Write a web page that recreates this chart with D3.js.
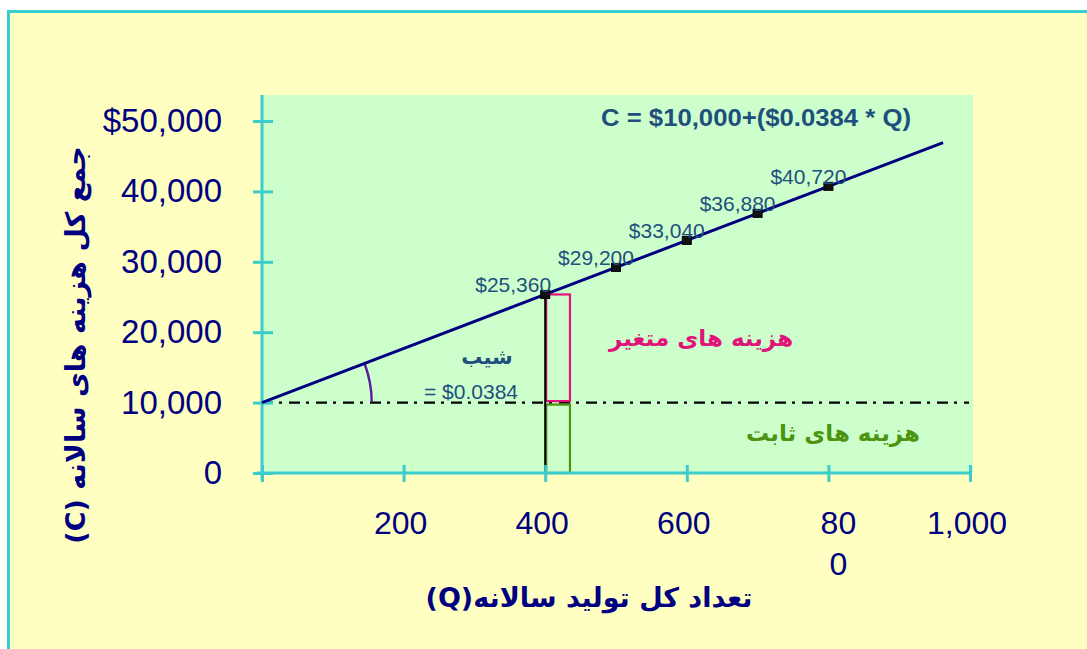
<!DOCTYPE html>
<html>
<head>
<meta charset="utf-8">
<script src="https://cdn.jsdelivr.net/npm/d3@7"></script>
<style>
  html, body { margin: 0; padding: 0; background: #ffffff; }
  svg { display: block; }
  .latin { font-family: "Liberation Sans", Arial, sans-serif; }
  .fa { font-family: "DejaVu Sans", "Noto Sans", sans-serif; font-weight: bold; }
</style>
</head>
<body>
<svg id="chart" width="1087" height="649"></svg>
<script>
// Annual production (Q) and total annual cost (C)
const xTicks = [0, 200, 400, 600, 800, 1000];
const xTickLabels = ["", "200", "400", "600", "80\n0", "1,000"];
const yTicks = [0, 10000, 20000, 30000, 40000, 50000];
const yTickLabels = ["0", "10,000", "20,000", "30,000", "40,000", "$50,000"];

const pointQ = [400, 500, 600, 700, 800];
const pointCost = [25360, 29200, 33040, 36880, 40720];
const pointLabels = ["$25,360", "$29,200", "$33,040", "$36,880", "$40,720"];

const lineQ = [0, 400, 500, 600, 700, 800, 962];
const lineCost = [10000, 25360, 29200, 33040, 36880, 40720, 46940];

const fixedCost = 10000;
const markQ = 400;          // quantity where the cost split is shown
const markCost = 25360;
const barQWidth = 35;       // width of the split bars in Q units

const equationText = "C = $10,000+($0.0384 * Q)";
const slopeTitle = "شیب";
const slopeValue = "= $0.0384";
const variableLabel = "هزینه های متغیر";
const fixedLabel = "هزینه های ثابت";
const xTitle = "تعداد کل تولید سالانه(Q)";
const yTitle = "جمع کل هزینه های سالانه (C)";

const colors = {
  frame: "#36cfcf",
  page: "#ffffc2",
  plot: "#ccffcc",
  axis: "#3ccccc",
  ink: "#000080",
  label: "#1f4f7c",
  variable: "#e0137a",
  fixed: "#4c9410",
  arc: "#5b1a9c"
};

const svg = d3.select("#chart");

// page frame
svg.append("rect")
  .attr("x", 8.5).attr("y", 11.5)
  .attr("width", 1100).attr("height", 660)
  .attr("fill", colors.page)
  .attr("stroke", colors.frame).attr("stroke-width", 3);

const plot = { left: 262, right: 973, top: 95, bottom: 473 };

const x = d3.scaleLinear().domain([0, 1000]).range([262, 970]);
const y = d3.scaleLinear().domain([0, 50000]).range([473, 121]);

// plot background
svg.append("rect")
  .attr("x", plot.left).attr("y", plot.top)
  .attr("width", plot.right - plot.left)
  .attr("height", plot.bottom - plot.top)
  .attr("fill", colors.plot);

// fixed-cost reference line (dash-dot)
svg.append("line")
  .attr("x1", x(0)).attr("x2", plot.right - 4)
  .attr("y1", y(fixedCost)).attr("y2", y(fixedCost))
  .attr("stroke", "#000").attr("stroke-width", 2.4)
  .attr("stroke-dasharray", "11,6,3,7");

// split bars at Q = 400
svg.append("rect")
  .attr("x", x(markQ) + 1).attr("y", y(markCost))
  .attr("width", x(markQ + barQWidth) - x(markQ) - 1)
  .attr("height", y(fixedCost) - y(markCost) - 1.5)
  .attr("fill", "none").attr("stroke", colors.variable).attr("stroke-width", 2.2);

svg.append("rect")
  .attr("x", x(markQ) + 1).attr("y", y(fixedCost) + 2)
  .attr("width", x(markQ + barQWidth) - x(markQ) - 1)
  .attr("height", y(0) - y(fixedCost) - 2)
  .attr("fill", "none").attr("stroke", colors.fixed).attr("stroke-width", 2.2);

svg.append("line")
  .attr("x1", x(markQ)).attr("x2", x(markQ))
  .attr("y1", y(markCost)).attr("y2", y(0))
  .attr("stroke", "#000").attr("stroke-width", 2);

// slope angle arc
const p0 = [x(lineQ[0]), y(lineCost[0])];
const p1 = [x(lineQ[1]), y(lineCost[1])];
const lineAngle = Math.atan2(p0[1] - p1[1], p1[0] - p0[0]);
const arcR = x(155) - x(0);
const arc = d3.arc()
  .innerRadius(arcR).outerRadius(arcR)
  .startAngle(Math.PI / 2 - lineAngle).endAngle(Math.PI / 2);
svg.append("path")
  .attr("transform", `translate(${p0[0]},${p0[1]})`)
  .attr("d", arc())
  .attr("fill", "none").attr("stroke", colors.arc).attr("stroke-width", 2.4);

// axes
const yAxis = d3.axisLeft(y).tickValues(yTicks).tickSize(9).tickFormat("");
const yg = svg.append("g").attr("transform", `translate(${plot.left},0)`).call(yAxis);
yg.select(".domain").remove();
yg.selectAll(".tick line").attr("x1", -9).attr("x2", 11)
  .attr("stroke", colors.axis).attr("stroke-width", 3);
svg.append("line")
  .attr("x1", plot.left).attr("x2", plot.left)
  .attr("y1", plot.top).attr("y2", plot.bottom + 7)
  .attr("stroke", colors.axis).attr("stroke-width", 3);

const xAxis = d3.axisBottom(x).tickValues(xTicks).tickSize(9).tickFormat("");
const xg = svg.append("g").attr("transform", `translate(0,${plot.bottom})`).call(xAxis);
xg.select(".domain").remove();
xg.selectAll(".tick line").attr("y1", -8).attr("y2", 9)
  .attr("stroke", colors.axis).attr("stroke-width", 3);
svg.append("line")
  .attr("x1", plot.left - 5).attr("x2", x(1000) + 1)
  .attr("y1", plot.bottom).attr("y2", plot.bottom)
  .attr("stroke", colors.axis).attr("stroke-width", 3);

// y tick labels
svg.append("g").selectAll("text")
  .data(yTicks)
  .join("text")
  .attr("class", "latin")
  .attr("x", 222)
  .attr("y", d => y(d) + 11)
  .attr("text-anchor", "end")
  .attr("font-size", 33)
  .attr("fill", colors.ink)
  .text((d, i) => yTickLabels[i]);

// x tick labels (may wrap onto two lines)
const xl = svg.append("g").selectAll("text")
  .data(xTicks)
  .join("text")
  .attr("class", "latin")
  .attr("text-anchor", "middle")
  .attr("font-size", 32)
  .attr("fill", colors.ink);
xl.each(function (d, i) {
  const lines = xTickLabels[i].split("\n");
  const t = d3.select(this);
  lines.forEach((s, k) => {
    t.append("tspan")
      .attr("x", x(d) + (lines.length > 1 ? 10 : -3))
      .attr("y", 534 + k * 41)
      .text(s);
  });
});

// cost line
const line = d3.line().x(d => x(d[0])).y(d => y(d[1]));
svg.append("path")
  .datum(lineQ.map((q, i) => [q, lineCost[i]]))
  .attr("d", line)
  .attr("fill", "none").attr("stroke", colors.ink).attr("stroke-width", 3);

// point markers
svg.append("g").selectAll("rect")
  .data(pointQ)
  .join("rect")
  .attr("x", d => x(d) - 4.5)
  .attr("y", (d, i) => y(pointCost[i]) - 4)
  .attr("width", 9).attr("height", 8)
  .attr("fill", "#111").attr("stroke", "#000").attr("stroke-width", 1);

// point labels
svg.append("g").selectAll("text")
  .data(pointQ)
  .join("text")
  .attr("class", "latin")
  .attr("x", (d, i) => x(d) - (i === 0 ? 32 : 20))
  .attr("y", (d, i) => y(pointCost[i]) - 2)
  .attr("text-anchor", "middle")
  .attr("font-size", 21)
  .attr("fill", colors.label)
  .text((d, i) => pointLabels[i]);

// equation
svg.append("text")
  .attr("class", "latin")
  .attr("x", 756).attr("y", 126)
  .attr("text-anchor", "middle")
  .attr("font-size", 23).attr("font-weight", "bold")
  .attr("textLength", 310).attr("lengthAdjust", "spacingAndGlyphs")
  .attr("fill", colors.label)
  .text(equationText);

// slope annotation
svg.append("text")
  .attr("class", "fa")
  .attr("x", 487).attr("y", 364)
  .attr("text-anchor", "middle").attr("direction", "rtl")
  .attr("font-size", 21)
  .attr("fill", colors.label)
  .text(slopeTitle);
svg.append("text")
  .attr("class", "latin")
  .attr("x", 471).attr("y", 399)
  .attr("text-anchor", "middle")
  .attr("font-size", 21)
  .attr("fill", colors.label)
  .text(slopeValue);

// cost component labels
svg.append("text")
  .attr("class", "fa")
  .attr("x", 701).attr("y", 346)
  .attr("text-anchor", "middle").attr("direction", "rtl")
  .attr("font-size", 23)
  .attr("fill", colors.variable)
  .text(variableLabel);
svg.append("text")
  .attr("class", "fa")
  .attr("x", 833).attr("y", 441)
  .attr("text-anchor", "middle").attr("direction", "rtl")
  .attr("font-size", 23)
  .attr("fill", colors.fixed)
  .text(fixedLabel);

// axis titles
svg.append("text")
  .attr("class", "fa")
  .attr("x", 589).attr("y", 607)
  .attr("text-anchor", "middle").attr("direction", "rtl")
  .attr("font-size", 27)
  .attr("fill", colors.ink)
  .text(xTitle);
svg.append("text")
  .attr("class", "fa")
  .attr("transform", "translate(85,345) rotate(-90)")
  .attr("text-anchor", "middle").attr("direction", "rtl")
  .attr("font-size", 27)
  .attr("fill", colors.ink)
  .text(yTitle);
</script>
</body>
</html>
